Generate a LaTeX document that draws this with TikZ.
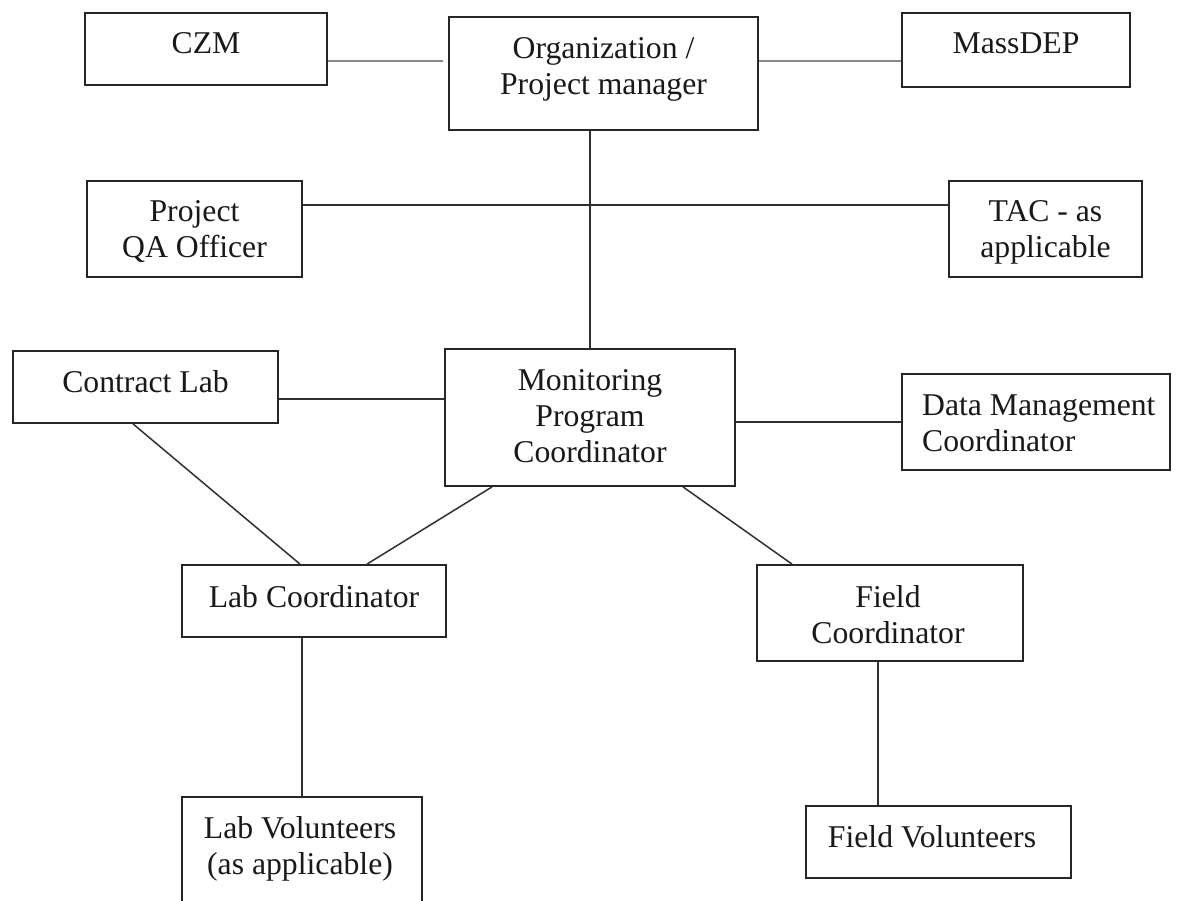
\documentclass[tikz,border=0pt]{standalone}
\usepackage{fontspec}
\setmainfont{Liberation Serif}
\definecolor{boxline}{HTML}{262626}
\definecolor{connline}{HTML}{303030}
\definecolor{greyline}{HTML}{8A8A8A}
\begin{document}
\begin{tikzpicture}[x=1pt,y=-1pt,
  box/.style={draw=boxline, line width=1.8pt, inner sep=0pt},
  lbl/.style={anchor=base, inner sep=0pt, font=\fontsize{31.7pt}{36pt}\selectfont, text=black!90},
  conn/.style={draw=connline, line width=1.5pt},
  greyconn/.style={draw=greyline, line width=1.5pt}]
\clip (0,0) rectangle (1182,901);
\fill[white] (0,0) rectangle (1182,901);

% boxes
\node[box, minimum width=242pt, minimum height=72pt] (czm) at (206,49) {};
\node[box, minimum width=309pt, minimum height=113pt] (org) at (603.5,73.5) {};
\node[box, minimum width=228pt, minimum height=74pt] (massdep) at (1016,50) {};
\node[box, minimum width=215pt, minimum height=96pt] (qa) at (194.5,229) {};
\node[box, minimum width=193pt, minimum height=96pt] (tac) at (1045.5,229) {};
\node[box, minimum width=265pt, minimum height=72pt] (clab) at (145.5,387) {};
\node[box, minimum width=290pt, minimum height=137pt] (mpc) at (590,417.5) {};
\node[box, minimum width=268pt, minimum height=96pt] (dmc) at (1036,422) {};
\node[box, minimum width=264pt, minimum height=72pt] (labc) at (314,601) {};
\node[box, minimum width=266pt, minimum height=96pt] (fieldc) at (890,613) {};
\node[box, minimum width=240pt, minimum height=113pt] (labv) at (302,853.5) {};
\node[box, minimum width=265pt, minimum height=72pt] (fieldv) at (938.5,842) {};

% texts
\node[lbl] (czmtext) at (206,54) {CZM};
\node[lbl] (orgtext) at (603.5,59) {\begin{tabular}[t]{@{}c@{}}Organization /\\Project manager\end{tabular}};
\node[lbl] (massdeptext) at (1016,54) {MassDEP};
\node[lbl] (qatext) at (194.5,222) {\begin{tabular}[t]{@{}c@{}}Project\\QA Officer\end{tabular}};
\node[lbl] (tactext) at (1045.5,222) {\begin{tabular}[t]{@{}c@{}}TAC - as\\applicable\end{tabular}};
\node[lbl] (clabtext) at (145.5,392) {Contract Lab};
\node[lbl] (mpctext) at (590,390) {\begin{tabular}[t]{@{}c@{}}Monitoring\\Program\\Coordinator\end{tabular}};
\node[lbl, anchor=base west] (dmctext) at (922,415) {\begin{tabular}[t]{@{}l@{}}Data Management\\Coordinator\end{tabular}};
\node[lbl] (labctext) at (314,607) {Lab Coordinator};
\node[lbl] (fieldctext) at (888,607) {\begin{tabular}[t]{@{}c@{}}Field\\Coordinator\end{tabular}};
\node[lbl] (labvtext) at (300,838) {\begin{tabular}[t]{@{}c@{}}Lab Volunteers\\(as applicable)\end{tabular}};
\node[lbl] (fieldvtext) at (932,847) {Field Volunteers};

% connectors
\draw[greyconn, shorten >=5pt] ([yshift=-12pt]czm.east) coordinate (c1) -- (org.west |- c1);
\draw[greyconn] ([yshift=-11pt]massdep.west) coordinate (c2) -- (org.east |- c2);
\draw[conn] (mpc.north) -- (mpc.north |- org.south);
\draw[conn] ([yshift=24pt]qa.east) -- ([yshift=24pt]tac.west);
\draw[conn] ([yshift=-12pt]clab.east) coordinate (c3) -- (mpc.west |- c3);
\draw[conn] (mpc.east |- dmc.west) -- (dmc.west);
\draw[conn] ([xshift=-12.5pt]clab.south) -- ([xshift=-14pt]labc.north);
\draw[conn] ([xshift=-98pt]mpc.south) -- ([xshift=53pt]labc.north);
\draw[conn] ([xshift=93pt]mpc.south) -- ([xshift=-98pt]fieldc.north);
\draw[conn] (labv.north) -- (labv.north |- labc.south);
\draw[conn] (fieldv.north -| fieldc.south) ++(-12pt,0) coordinate (c4) -- (c4 |- fieldc.south);
\end{tikzpicture}
\end{document}
